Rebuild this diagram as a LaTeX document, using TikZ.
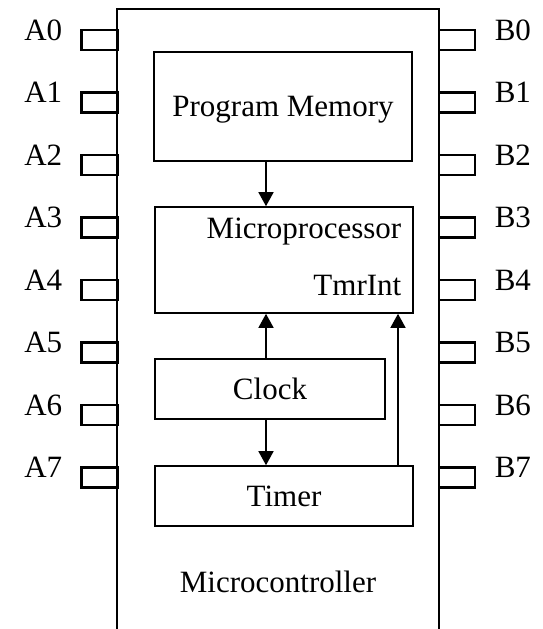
\documentclass[tikz,border=0pt]{standalone}
\usepackage{fontspec}
\setmainfont{Liberation Serif}
\usetikzlibrary{positioning,arrows.meta}
\tikzset{blk/.style={draw,line width=1.6pt,inner sep=0pt,text depth=0pt},
	 pad/.style={draw,line width=2.2pt,minimum width=36pt,minimum height=20pt,inner sep=0pt},
	 >={Triangle[length=14pt,width=15pt]}
	 }

\begin{document}
\begin{tikzpicture}[x=1pt,y=-1pt,font=\fontsize{31}{36}\selectfont,line width=1.5pt] % chip with ports A and B
	\useasboundingbox (0,0) rectangle (542,629);
	\draw[line width=2.6pt] (117,629) |- (439,9) -- (439,629);
	\foreach \i in {0,...,7}{
		\node[pad] (a\i) at (99.5,40+62.5*\i) {};
		\node[anchor=base east,inner sep=0pt] (la\i) at (63,40+62.5*\i) {A\i};
		\node[pad] (b\i) at (457,40+62.5*\i) {};
		\node[anchor=base west,inner sep=0pt] (lb\i) at (494,40+62.5*\i) {B\i};
	}
	\node[blk,minimum width=258pt,minimum height=109pt] (mem) at (283,106.5) {Program Memory};
	\node[blk,minimum width=258pt,minimum height=106pt] (cpu) at (284,260) {};
	\node[anchor=base east,inner sep=0pt] (cpuname) at (402,238) {Microprocessor};
	\node[anchor=base east,inner sep=0pt] (tmrint) at (402,295) {TmrInt};
	\node[blk,minimum width=230pt,minimum height=60pt] (clk) at (270,389) {Clock};
	\node[blk,minimum width=258pt,minimum height=60pt] (tmr) at (284,496) {Timer};
	\node[anchor=base] (mcu) at (278,592) {Microcontroller};
	\coordinate (bus) at (266,0);
	\coordinate (irq) at (398,0);
	\draw[->] (bus |- mem.south) -- (bus |- cpu.north);
	\draw[->] (bus |- clk.north) -- (bus |- cpu.south);
	\draw[->] (bus |- clk.south) -- (bus |- tmr.north);
	\draw[->] (irq |- tmr.north) -- (irq |- cpu.south);
\end{tikzpicture}
\end{document}
